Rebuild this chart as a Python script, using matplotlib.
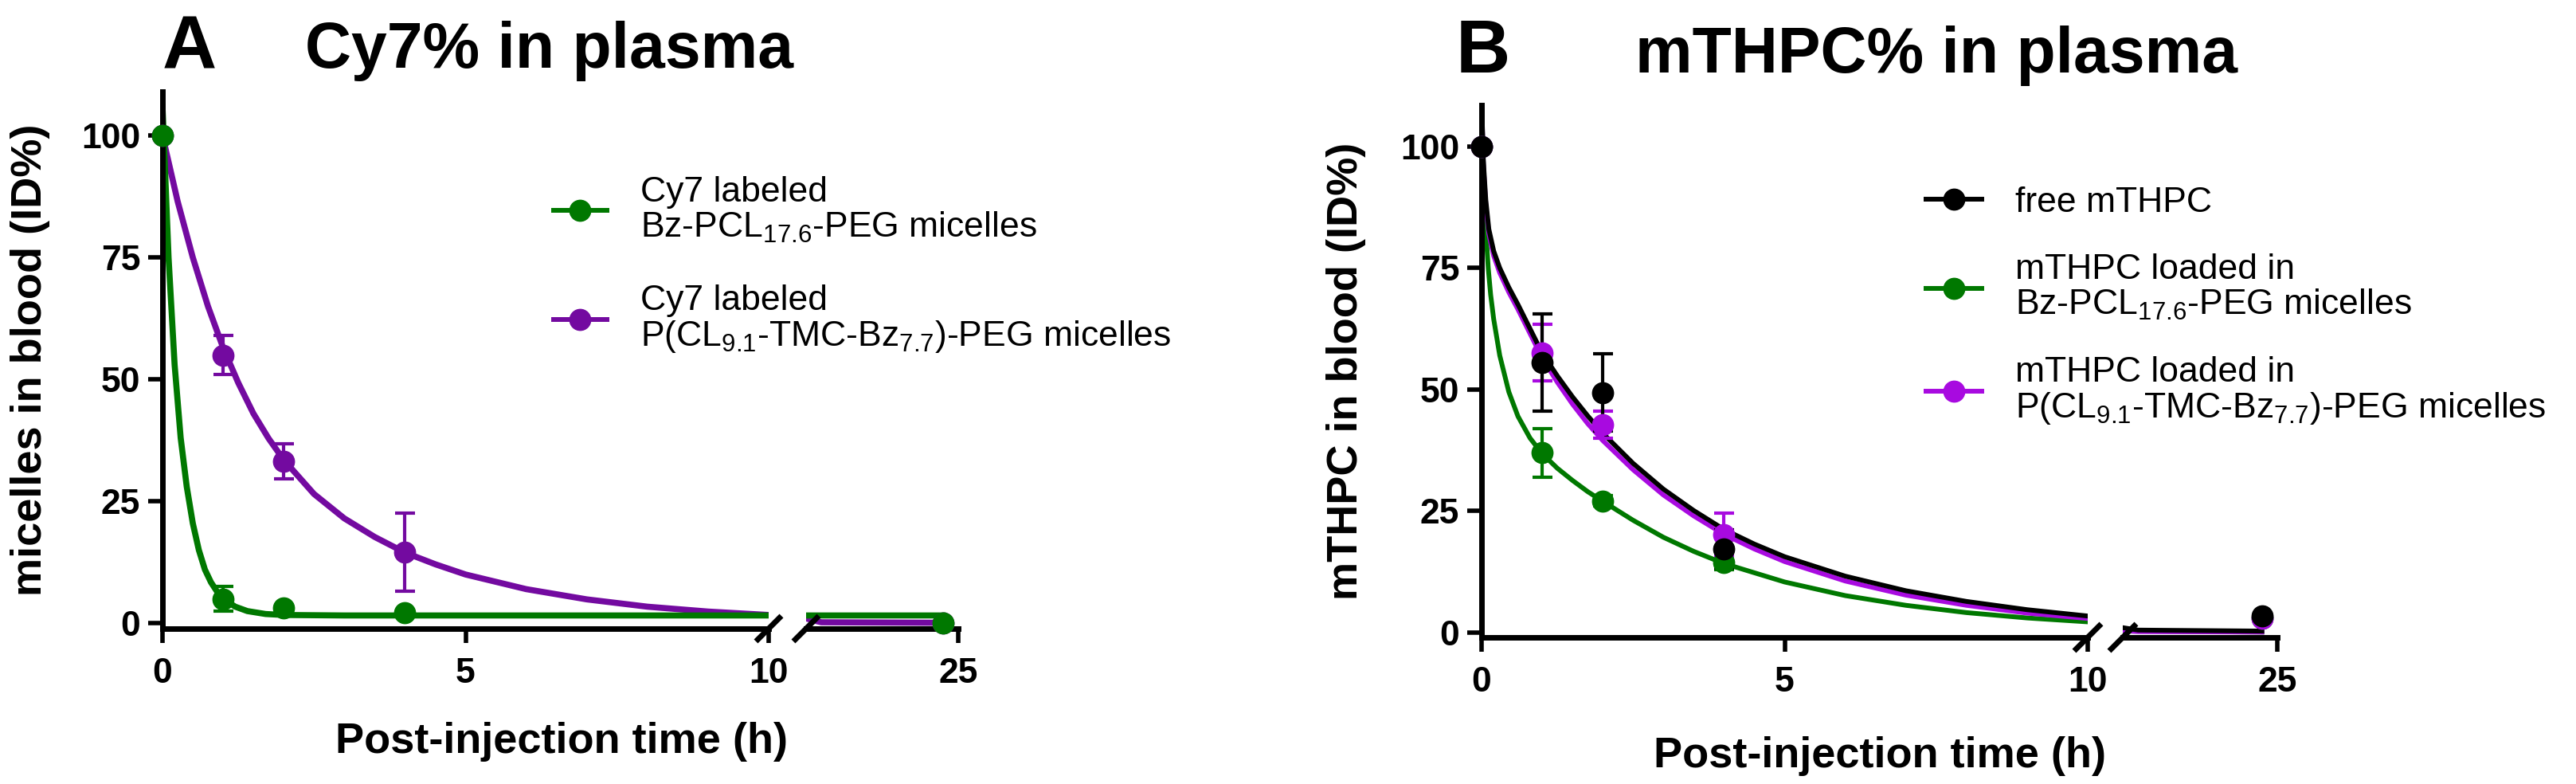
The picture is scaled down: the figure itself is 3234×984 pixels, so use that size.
import matplotlib
matplotlib.use("Agg")
import matplotlib.pyplot as plt
from matplotlib.lines import Line2D

plt.rcParams['font.family'] = ['Liberation Sans', 'DejaVu Sans']
plt.rcParams['mathtext.fontset'] = 'custom'
plt.rcParams['mathtext.rm'] = 'Liberation Sans'
plt.rcParams['mathtext.it'] = 'Liberation Sans:italic'
plt.rcParams['mathtext.bf'] = 'Liberation Sans:bold'
plt.rcParams['mathtext.default'] = 'regular'

# ---- panel A: Cy7 signal in plasma ----
a_time = [0, 1, 2, 4, 24]
a_bzpcl = [100, 5.0, 3.2, 2.2, 0.0]
a_bzpcl_sd = [0, 2.5, 0.6, 0.5, 0]
a_pcltmc = [100, 55.0, 33.2, 14.6, 0.0]
a_pcltmc_sd = [0, 4.0, 3.6, 8.0, 0]

# fitted curves
a_fit_t_bzpcl = [0, 0.1, 0.2, 0.3, 0.4, 0.5, 0.6, 0.7, 0.8, 0.9, 1.0, 1.2, 1.4,
                 1.7, 2.0, 3.0, 10.0, 15.0, 24.0]
a_fit_bzpcl = [106, 75, 53, 38, 28, 20.5, 15, 11, 8.4, 6.5, 5.0, 3.4, 2.5,
               1.9, 1.7, 1.6, 1.6, 1.6, 1.6]
a_fit_t_pcltmc = [0, 0.25, 0.5, 0.75, 1, 1.25, 1.5, 1.75, 2, 2.5, 3, 3.5, 4,
                  4.5, 5, 6, 7, 8, 9, 10, 15.0, 16.0, 24.0]
a_fit_pcltmc = [100, 86.5, 75, 65, 56.5, 49.3, 43, 37.9, 33.5, 26.5, 21.5, 17.7,
                14.5, 12.1, 10, 7, 4.9, 3.4, 2.4, 1.7, 1.0, 0.2, 0.1]

# ---- panel B: mTHPC in plasma ----
b_time = [0, 1, 2, 4, 24]
b_free = [100, 55.6, 49.4, 17.2, 3.5]
b_free_sd = [0, 10.0, 8.0, 4.0, 0]
b_bzpcl = [100, 37.0, 27.1, 14.4, 3.0]
b_bzpcl_sd = [0, 5.0, 1.0, 1.5, 0]
b_pcltmc = [100, 57.6, 42.7, 20.1, 3.0]
b_pcltmc_sd = [0, 5.8, 2.8, 4.4, 0]

b_fit_t = [0, 0.03, 0.07, 0.12, 0.2, 0.3, 0.45, 0.6, 0.8, 1, 1.25, 1.5, 1.75,
           2, 2.5, 3, 3.5, 4, 4.5, 5, 6, 7, 8, 9, 10, 15, 16, 24]
b_fit_free = [110, 97, 89, 83, 78.5, 75, 71, 67.5, 62.5, 57.5, 52.8, 48.5, 44.6,
              41, 34.8, 29.5, 25.1, 21.2, 18.2, 15.6, 11.6, 8.6, 6.4, 4.7, 3.4,
              1.0, 0.5, 0.3]
b_fit_pcltmc = [110, 96, 88, 82, 77.5, 74, 70, 66.5, 61.5, 56.5, 51.5, 47, 43,
                39.5, 33.5, 28.3, 24, 20.2, 17.2, 14.6, 10.6, 7.7, 5.6, 4.0, 2.9,
                0.4, 0.2, 0.1]
b_fit_t_bzpcl = [0, 0.02, 0.05, 0.08, 0.11, 0.15, 0.2, 0.3, 0.45, 0.6, 0.8, 1,
                 1.25, 1.5, 1.75, 2, 2.5, 3, 3.5, 4, 5, 6, 7, 8, 9, 10, 15, 24]
b_fit_bzpcl = [110, 100, 89, 81, 75, 69.5, 64.5, 57, 49.5, 44.5, 40, 36.8, 33.8,
               31.3, 29.0, 27, 23.1, 19.6, 16.7, 14.2, 10.4, 7.6, 5.6, 4.1, 3.0,
               2.2, 0.3, 0.1]

GREEN = '#007800'
PURPLE_A = '#730aa0'
PURPLE_B = '#a80ae0'
BLACK = '#000000'

W, H = 3234, 984
fig = plt.figure(figsize=(W / 100, H / 100), dpi=100)


def box(left, right, top, bottom):
    return [left / W, 1 - bottom / H, (right - left) / W, (bottom - top) / H]


def style_pair(ax1, ax2, ylim):
    for ax in (ax1, ax2):
        ax.set_ylim(*ylim)
        ax.spines['top'].set_visible(False)
        ax.spines['right'].set_visible(False)
        ax.spines['bottom'].set_linewidth(5)
        ax.patch.set_visible(False)
        ax.tick_params(axis='both', length=13, width=4, labelsize=32)
        ax.tick_params(axis='x', pad=13)
        ax.tick_params(axis='y', pad=7)
    ax1.spines['left'].set_linewidth(5)
    ax1.set_xlim(0, 10)
    ax1.set_xticks([0, 5, 10])
    ax1.set_yticks([0, 25, 50, 75, 100])
    ax2.set_xlim(15, 25)
    ax2.set_xticks([25])
    ax2.spines['left'].set_visible(False)
    ax2.set_yticks([])
    for ax in (ax1, ax2):
        plt.setp(ax.get_xticklabels() + ax.get_yticklabels(), fontweight='bold')


def brk(ax, xa, px):
    pos = ax.get_position()
    w, h = pos.width * W, pos.height * H
    ax.plot([xa - px / w, xa + px / w], [-px / h, px / h], transform=ax.transAxes,
            color='k', lw=5, clip_on=False, solid_capstyle='butt')


def draw_series(ax1, ax2, t, y, sd, ft, fy, color, lw):
    for ax in (ax1, ax2):
        lo, hi = ax.get_xlim()
        ax.plot(ft, fy, color=color, lw=lw, zorder=2)
        keep = [i for i, ti in enumerate(t) if lo <= ti <= hi]
        ax.errorbar([t[i] for i in keep], [y[i] for i in keep],
                    yerr=[sd[i] for i in keep], fmt='o', color=color, ms=19,
                    elinewidth=3, capsize=9, capthick=3, clip_on=False, zorder=3)


# ---------- panel A ----------
axA1 = fig.add_axes(box(204, 965, 115, 789))
axA2 = fig.add_axes(box(1012, 1203, 115, 789))
style_pair(axA1, axA2, (-1.1, 109))
draw_series(axA1, axA2, a_time, a_pcltmc, a_pcltmc_sd, a_fit_t_pcltmc,
            a_fit_pcltmc, PURPLE_A, 5.5)
draw_series(axA1, axA2, a_time, a_bzpcl, a_bzpcl_sd, a_fit_t_bzpcl,
            a_fit_bzpcl, GREEN, 5.5)
brk(axA1, 1, 16)
brk(axA2, 0, 16)
axA1.set_ylabel('micelles in blood (ID%)', fontsize=39, fontweight='bold')
axA1.yaxis.set_label_coords(-0.185, 0.5)

hA = [Line2D([], [], color=GREEN, marker='o', ms=19, lw=4.3),
      Line2D([], [], color=PURPLE_A, marker='o', ms=19, lw=4.3)]
labA = ['Cy7 labeled\nBz-PCL$_{17.6}$-PEG micelles',
        'Cy7 labeled\nP(CL$_{9.1}$-TMC-Bz$_{7.7}$)-PEG micelles']
legA = axA1.legend(hA, labA, loc='upper left', bbox_to_anchor=(695 / W, 1 - 221 / H),
                   bbox_transform=fig.transFigure, frameon=False, fontsize=32,
                   borderpad=0, borderaxespad=0, handlelength=1.5,
                   handletextpad=0.95, labelspacing=1.13)
for txt in legA.get_texts():
    txt.set_linespacing(1.05)

fig.text(204 / W, 1 - 86 / H, 'A', fontsize=68, fontweight='bold', va='baseline')
fig.text(383 / W, 1 - 85 / H, 'Cy7% in plasma', fontsize=58, fontweight='bold',
         va='baseline')
fig.text(705 / W, 1 - 945 / H, 'Post-injection time (h)', fontsize=39,
         fontweight='bold', ha='center', va='baseline')

# ---------- panel B ----------
axB1 = fig.add_axes(box(1860, 2621, 132, 800))
axB2 = fig.add_axes(box(2665, 2859, 132, 800))
style_pair(axB1, axB2, (-1.0, 108.5))
draw_series(axB1, axB2, b_time, b_bzpcl, b_bzpcl_sd, b_fit_t_bzpcl,
            b_fit_bzpcl, GREEN, 4.3)
draw_series(axB1, axB2, b_time, b_pcltmc, b_pcltmc_sd, b_fit_t,
            b_fit_pcltmc, PURPLE_B, 4.3)
draw_series(axB1, axB2, b_time, b_free, b_free_sd, b_fit_t,
            b_fit_free, BLACK, 4.3)
brk(axB1, 1, 17)
brk(axB2, 0, 17)
axB1.set_ylabel('mTHPC in blood (ID%)', fontsize=39, fontweight='bold')
axB1.yaxis.set_label_coords(-0.19, 0.5)

hB = [Line2D([], [], color=BLACK, marker='o', ms=19, lw=4.3),
      Line2D([], [], color=GREEN, marker='o', ms=19, lw=4.3),
      Line2D([], [], color=PURPLE_B, marker='o', ms=19, lw=4.3)]
labB = ['free mTHPC',
        'mTHPC loaded in\nBz-PCL$_{17.6}$-PEG micelles',
        'mTHPC loaded in\nP(CL$_{9.1}$-TMC-Bz$_{7.7}$)-PEG micelles']
legB = axB1.legend(hB, labB, loc='upper left', bbox_to_anchor=(2418 / W, 1 - 234 / H),
                   bbox_transform=fig.transFigure, frameon=False, fontsize=32,
                   borderpad=0, borderaxespad=0, handlelength=1.58,
                   handletextpad=0.95, labelspacing=0.97)
for txt in legB.get_texts():
    txt.set_linespacing(1.05)

fig.text(1828 / W, 1 - 91 / H, 'B', fontsize=68, fontweight='bold', va='baseline')
fig.text(2053 / W, 1 - 91 / H, 'mTHPC% in plasma', fontsize=58, fontweight='bold',
         va='baseline')
fig.text(2360 / W, 1 - 963 / H, 'Post-injection time (h)', fontsize=39,
         fontweight='bold', ha='center', va='baseline')

fig.savefig('out.png', dpi=100)
